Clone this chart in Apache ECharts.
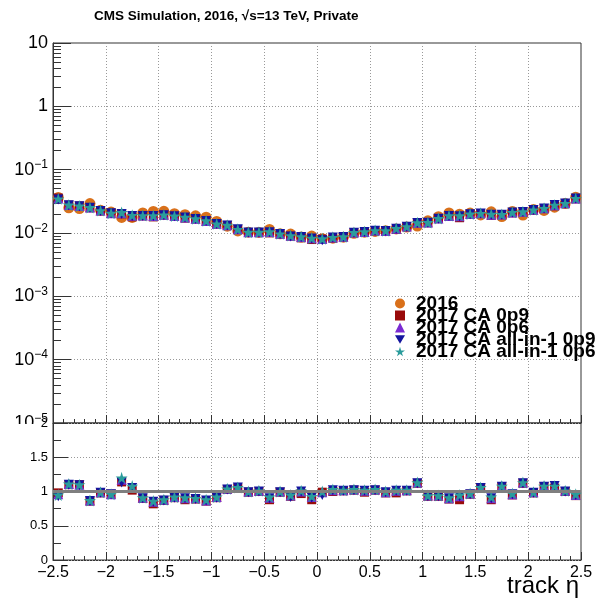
<!DOCTYPE html>
<html>
<head>
<meta charset="utf-8">
<script src="https://cdn.jsdelivr.net/npm/echarts@6/dist/echarts.min.js"></script>
<style>
html, body { margin: 0; padding: 0; background: #fff; }
#chart { width: 596px; height: 602px; }
</style>
</head>
<body>
<div id="chart"></div>
<script>
// bin centres in track eta
var etaBins = [-2.45, -2.35, -2.25, -2.15, -2.05, -1.95, -1.85, -1.75, -1.65, -1.55,
  -1.45, -1.35, -1.25, -1.15, -1.05, -0.95, -0.85, -0.75, -0.65, -0.55,
  -0.45, -0.35, -0.25, -0.15, -0.05, 0.05, 0.15, 0.25, 0.35, 0.45,
  0.55, 0.65, 0.75, 0.85, 0.95, 1.05, 1.15, 1.25, 1.35, 1.45,
  1.55, 1.65, 1.75, 1.85, 1.95, 2.05, 2.15, 2.25, 2.35, 2.45];

// 2016 reference values (upper pad)
var eff2016 = [0.0364, 0.0250, 0.0243, 0.0291, 0.0228, 0.0214, 0.0176, 0.0176, 0.0207, 0.0219,
  0.0220, 0.0202, 0.0195, 0.0187, 0.0178, 0.0152, 0.0128, 0.0108, 0.0103, 0.0102,
  0.0114, 0.0097, 0.0096, 0.00865, 0.00896, 0.00812, 0.00829, 0.00858, 0.0099, 0.0103,
  0.0106, 0.0109, 0.0116, 0.0124, 0.0129, 0.0156, 0.0181, 0.0207, 0.0198, 0.0206,
  0.0193, 0.0216, 0.0182, 0.0219, 0.0192, 0.0235, 0.0227, 0.0256, 0.0291, 0.0368];

// ratios to 2016 (lower pad)
var ratioCA09 = [0.98, 1.10, 1.10, 0.86, 0.98, 0.96, 1.14, 1.02, 0.90, 0.82,
  0.87, 0.91, 0.88, 0.89, 0.86, 0.91, 1.03, 1.05, 0.99, 1.00,
  0.88, 0.99, 0.93, 0.97, 0.88, 0.99, 1.00, 1.01, 1.02, 0.99,
  1.02, 0.98, 0.98, 1.01, 1.12, 0.93, 0.93, 0.89, 0.88, 0.96,
  1.05, 0.88, 1.07, 0.95, 1.12, 0.98, 1.07, 1.05, 1.00, 0.94];
var ratioCA06 = [0.96, 1.11, 1.10, 0.87, 0.99, 0.96, 1.17, 1.06, 0.91, 0.85,
  0.88, 0.92, 0.90, 0.90, 0.87, 0.92, 1.04, 1.06, 1.00, 1.01,
  0.91, 1.00, 0.94, 1.00, 0.92, 0.99, 1.02, 1.02, 1.03, 1.01,
  1.03, 0.99, 1.01, 1.02, 1.13, 0.94, 0.94, 0.90, 0.93, 0.97,
  1.06, 0.90, 1.08, 0.96, 1.13, 0.99, 1.08, 1.07, 1.01, 0.95];
var ratioAll09 = [0.93, 1.10, 1.09, 0.86, 0.98, 0.96, 1.13, 1.05, 0.90, 0.85,
  0.87, 0.91, 0.90, 0.89, 0.87, 0.91, 1.03, 1.06, 0.99, 1.00,
  0.90, 0.99, 0.92, 1.00, 0.91, 0.95, 1.02, 1.01, 1.02, 1.01,
  1.02, 0.99, 1.01, 1.01, 1.12, 0.93, 0.93, 0.90, 0.93, 0.96,
  1.05, 0.90, 1.07, 0.96, 1.12, 0.98, 1.07, 1.08, 1.00, 0.95];
var ratioAll06 = [0.95, 1.11, 1.10, 0.87, 0.99, 0.96, 1.20, 1.08, 0.91, 0.86,
  0.88, 0.92, 0.91, 0.90, 0.88, 0.92, 1.04, 1.06, 1.00, 1.01,
  0.92, 1.00, 0.95, 1.01, 0.93, 1.00, 1.03, 1.02, 1.03, 1.02,
  1.03, 1.00, 1.02, 1.02, 1.13, 0.94, 0.94, 0.91, 0.95, 0.97,
  1.06, 0.92, 1.08, 0.97, 1.13, 0.99, 1.08, 1.08, 1.01, 0.96];

var names = ['2016', '2017 CA 0p9', '2017 CA 0p6', '2017 CA all-in-1 0p9', '2017 CA all-in-1 0p6'];
var colors = ['#d9701a', '#990a0a', '#7a2ad2', '#14149e', '#2a9c9c'];
var symbols = ['circle', 'rect', 'triangle', 'path://M0,0 L100,0 L50,87 Z',
  'path://M50,0 L61,35 L98,35 L68,57 L79,91 L50,70 L21,91 L32,57 L2,35 L39,35 Z'];
var sizes = [11, 9, 10, 10, 12];

var FONT = 'Liberation Sans, Arial, sans-serif';

// log minor tick positions 2..9 per decade
var minorLog = [];
for (var d = -5; d < 1; d++) {
  for (var k = 2; k <= 9; k++) minorLog.push(k * Math.pow(10, d));
}

var ratios = [null, ratioCA09, ratioCA06, ratioAll09, ratioAll06];

var series = [];
names.forEach(function (n, s) {
  var up = etaBins.map(function (x, i) {
    return [x, s === 0 ? eff2016[i] : eff2016[i] * ratios[s][i]];
  });
  series.push({
    name: n, type: 'scatter', xAxisIndex: 0, yAxisIndex: 0,
    symbol: symbols[s], symbolSize: sizes[s], z: 3,
    itemStyle: { color: colors[s], opacity: 1 },
    data: up
  });
});

// reference line at 1 in ratio pad
series.push({
  name: 'one', type: 'scatter', xAxisIndex: 1, yAxisIndex: 2, data: [], z: 2,
  markLine: {
    silent: true, symbol: 'none', label: { show: false },
    lineStyle: { color: '#7f7f7f', width: 3, type: 'solid' },
    data: [{ yAxis: 1 }]
  }
});
for (var s = 1; s < 5; s++) {
  series.push({
    name: names[s], type: 'scatter', xAxisIndex: 1, yAxisIndex: 2,
    symbol: symbols[s], symbolSize: sizes[s], z: 3,
    itemStyle: { color: colors[s], opacity: 1 },
    data: etaBins.map(function (x, i) { return [x, ratios[s][i]]; })
  });
}

var frame = '#333';
var dotted = { show: true, lineStyle: { type: [1, 2], color: '#999', width: 1 } };

var myChart = echarts.init(document.getElementById('chart'), null, { renderer: 'canvas' });
var option = {
  animation: false,
  backgroundColor: '#fff',
  textStyle: { fontFamily: FONT },
  grid: [
    { left: 53, top: 43, width: 528, height: 380, show: true, borderColor: frame, borderWidth: 1 },
    { left: 53, top: 423, width: 528, height: 137, show: true, borderColor: frame, borderWidth: 1 }
  ],
  xAxis: [
    {
      gridIndex: 0, type: 'value', min: -2.5, max: 2.5, interval: 0.5,
      axisLine: { show: true, onZero: false, lineStyle: { color: frame } },
      axisTick: { show: true, inside: true, length: 8, lineStyle: { color: frame } },
      minorTick: { show: true, splitNumber: 5, length: 4, lineStyle: { color: frame } },
      axisLabel: { show: false },
      splitLine: dotted
    },
    {
      gridIndex: 1, type: 'value', min: -2.5, max: 2.5, interval: 0.5,
      axisLine: { show: true, onZero: false, lineStyle: { color: frame } },
      axisTick: { show: true, inside: true, length: 8, lineStyle: { color: frame } },
      minorTick: { show: true, splitNumber: 5, length: 4, lineStyle: { color: frame } },
      axisLabel: {
        fontSize: 16, color: '#000', margin: 5, fontFamily: FONT,
        showMinLabel: true, showMaxLabel: true,
        formatter: function (v) { return String(v).replace('-', '\u2212'); }
      },
      splitLine: dotted
    }
  ],
  yAxis: [
    {
      gridIndex: 0, type: 'log', logBase: 10, min: 1e-5, max: 10, z: 1,
      axisLine: { show: true, onZero: false, lineStyle: { color: frame } },
      axisTick: { show: true, inside: true, length: 18, lineStyle: { color: frame } },
      axisLabel: {
        fontSize: 18, color: '#000', margin: 5, fontFamily: FONT,
        formatter: function (v) {
          var e = Math.round(Math.log10(v));
          if (e === 0) return '1';
          if (e === 1) return '10';
          return '10{s|\u2212' + (-e) + '}';
        },
        rich: { s: { fontSize: 12, fontFamily: FONT, color: '#000', padding: [0, 0, 9, 0] } }
      },
      splitLine: dotted
    },
    {
      gridIndex: 0, type: 'log', logBase: 10, min: 1e-5, max: 10, position: 'left',
      axisLine: { show: false, onZero: false },
      axisTick: { show: true, inside: true, length: 8, customValues: minorLog, lineStyle: { color: frame } },
      axisLabel: { show: false },
      splitLine: { show: false }
    },
    {
      gridIndex: 1, type: 'value', min: 0, max: 2, interval: 0.5, z: 3,
      axisLine: { show: true, onZero: false, lineStyle: { color: frame } },
      axisTick: { show: true, inside: true, length: 15, lineStyle: { color: frame } },
      minorTick: { show: true, splitNumber: 2, length: 8, lineStyle: { color: frame } },
      axisLabel: { fontSize: 13, color: '#000', margin: 5, fontFamily: FONT },
      splitLine: dotted
    }
  ],
  legend: {
    data: names,
    orient: 'vertical', left: 395, top: 294, padding: 0,
    itemWidth: 10, itemHeight: 10, itemGap: -7,
    selectedMode: false,
    textStyle: { fontSize: 19, fontWeight: 'bold', fontFamily: FONT, color: '#000', padding: [0, 0, 0, 6] }
  },
  graphic: [
    { type: 'rect', z: 2, shape: { x: 0, y: 424, width: 52, height: 22 }, style: { fill: '#fff' } },
    {
      type: 'text', left: 94, top: 9,
      style: { text: 'CMS Simulation, 2016, \u221As=13 TeV, Private', fontSize: 13.5, fontWeight: 'bold', fontFamily: FONT, fill: '#000' }
    },
    {
      type: 'text', right: 17, top: 574,
      style: { text: 'track \u03b7', fontSize: 24, fontFamily: FONT, fill: '#000' }
    }
  ],
  series: series
};

option && myChart.setOption(option);
</script>
</body>
</html>
